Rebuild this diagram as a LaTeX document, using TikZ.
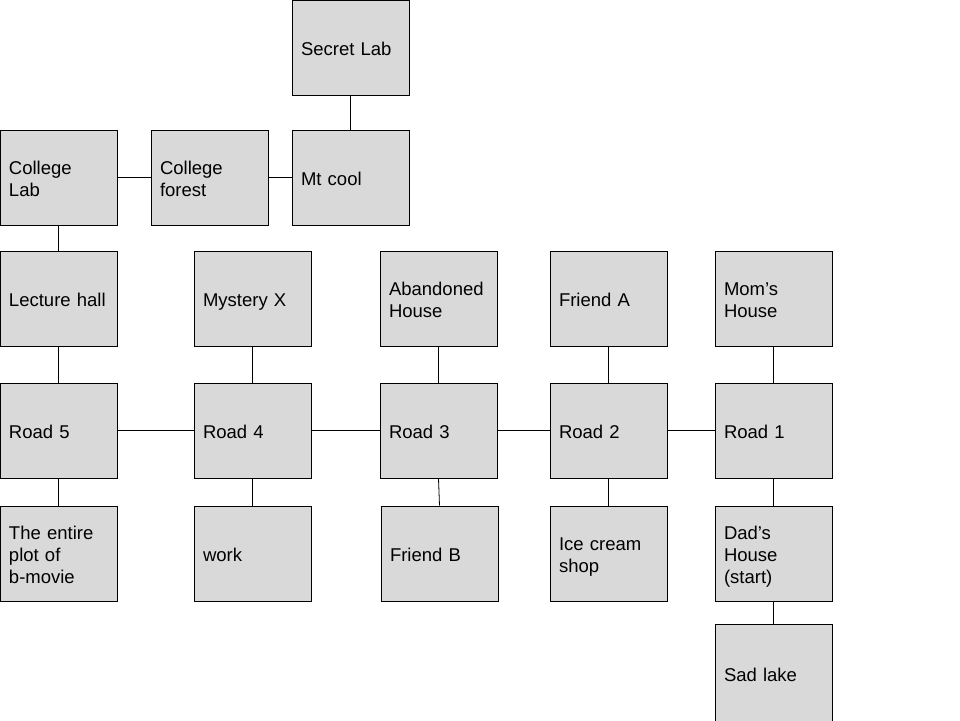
\documentclass[tikz,border=0pt]{standalone}
\usepackage{fontspec}
\setmainfont{Liberation Sans}
\usetikzlibrary{positioning}
\definecolor{boxgray}{HTML}{D9D9D9}

\begin{document}
\begin{tikzpicture}[x=1pt, y=-1pt, font=\fontsize{18.5}{22}\selectfont,
	place/.style={rectangle,draw=black,fill=boxgray,line width=0.8pt,align=left,text width=99pt,inner xsep=9pt,minimum width=117pt,minimum height=95pt,execute at begin node=\rule{0pt}{19.5pt},execute at end node=\rule[-4.5pt]{0pt}{4.5pt}},
	link/.style={draw=black,line width=0.8pt}]
	\useasboundingbox (0,0) rectangle (960,720);
	% top part
	\node[place](seclab) at (350.5,47.5){Secret Lab};
	\node[place](colab) at (58.5,177.5){College\\Lab};
	\node[place](coforest) at (209.5,177.5){College\\forest};
	\node[place](mtcool) at (350.5,177.5){Mt cool};
	% upper row
	\node[place](lecture) at (58.5,298.5){Lecture hall};
	\node[place](mystery) at (252.5,298.5){Mystery X};
	\node[place](abandoned) at (438.5,298.5){Abandoned\\House};
	\node[place](frienda) at (608.5,298.5){Friend A};
	\node[place](mom) at (773.5,298.5){Mom’s\\House};
	% roads
	\node[place](road5) at (58.5,430.5){Road 5};
	\node[place](road4) at (252.5,430.5){Road 4};
	\node[place](road3) at (438.5,430.5){Road 3};
	\node[place](road2) at (608.5,430.5){Road 2};
	\node[place](road1) at (773.5,430.5){Road 1};
	% lower row
	\node[place](plot) at (58.5,553.5){The entire\\plot of\\b-movie};
	\node[place](work) at (252.5,553.5){work};
	\node[place](friendb) at (439.5,553.5){Friend B};
	\node[place](icecream) at (608.5,553.5){Ice cream\\shop};
	\node[place](dad) at (773.5,553.5){Dad’s\\House\\(start)};
	\node[place,minimum height=100pt](sadlake) at (773.5,674.3){Sad lake};
	% links
	\draw[link] (seclab) -- (mtcool);
	\draw[link] (colab) -- (coforest);
	\draw[link] (coforest) -- (mtcool);
	\draw[link] (colab) -- (lecture);
	\draw[link] (lecture) -- (road5);
	\draw[link] (mystery) -- (road4);
	\draw[link] (abandoned) -- (road3);
	\draw[link] (frienda) -- (road2);
	\draw[link] (mom) -- (road1);
	\draw[link] (road5) -- (road4);
	\draw[link] (road4) -- (road3);
	\draw[link] (road3) -- (road2);
	\draw[link] (road2) -- (road1);
	\draw[link] (road5) -- (plot);
	\draw[link] (road4) -- (work);
	\draw[link] (road3.south) -- (friendb.north);
	\draw[link] (road2) -- (icecream);
	\draw[link] (road1) -- (dad);
	\draw[link] (dad) -- (sadlake);
\end{tikzpicture}
\end{document}
